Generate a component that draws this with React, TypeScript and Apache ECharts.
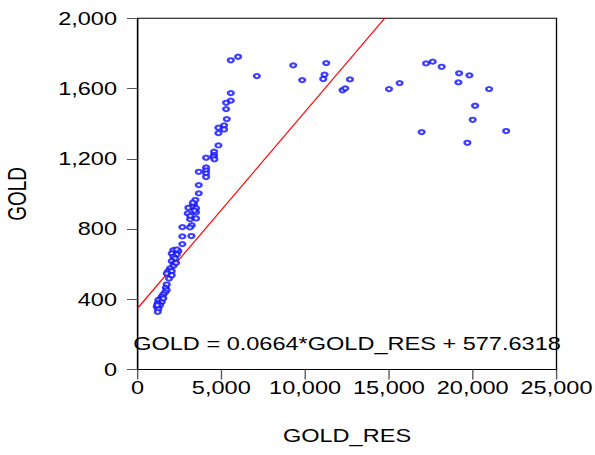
import React, { useEffect, useRef } from "react";
import * as echarts from "echarts";

// GOLD_RES (x) against GOLD (y)
const goldRes: number[] = [
  5567, 6004, 7120, 9290, 9828, 11261, 11160, 11082, 12676, 12235, 12396,
  15006, 15640, 17217, 17612, 18149, 19188, 19147, 19804, 20980, 20144,
  20001, 16955, 19684, 21996,
  5567, 5567, 5287, 5287, 5328, 5167, 5167, 4827, 4827, 4827, 4570, 4570,
  4529, 4092, 4588, 4092, 4092, 4092, 4092, 3656, 3656, 3656, 3453, 3375,
  3256, 3035, 3495, 2999, 3495, 3136, 3495, 3238, 3136, 2676, 2676, 3214,
  2676, 3300, 3400, 3150,
  2139, 2437, 2043, 2342, 2139, 2240, 2043, 2198, 2139, 1942, 1840, 2043,
  1882, 1744, 1685, 1744, 1643, 1541, 1446, 1344, 1243, 1446, 1207, 1344,
  1147, 1243, 1207, 2342, 2300, 1744, 2043, 1541, 1183,
];
const gold: number[] = [
  1761, 1781, 1671, 1732, 1648, 1745, 1679, 1654, 1652, 1590, 1601,
  1597, 1631, 1743, 1753, 1724, 1687, 1635, 1675, 1597, 1502,
  1422, 1352, 1291, 1358,
  1574, 1531, 1519, 1483, 1426, 1390, 1367, 1377, 1346, 1276, 1240, 1221,
  1211, 1206, 1197, 1151, 1134, 1117, 1096, 1126, 1050, 1003, 965, 940,
  927, 921, 918, 889, 895, 856, 860, 822, 809, 811, 758, 760,
  714, 950, 905, 875,
  680, 674, 661, 655, 642, 632, 617, 604, 590, 576, 560, 560,
  518, 484, 465, 452, 439, 427, 414, 401, 395, 385, 376, 366,
  357, 344, 328, 684, 607, 547, 537, 405, 366,
];

// fitted line as plotted
const fitIntercept = 348;
const fitSlope = 0.112;
const fitX: number[] = [0, 14750];

const xTicks = { min: 0, max: 25000, interval: 5000 };
const yTicks = { min: 0, max: 2000, interval: 400 };

const equationText = "GOLD = 0.0664*GOLD_RES + 577.6318";
const xTitle = "GOLD_RES";
const yTitle = "GOLD";

// the whole figure is drawn horizontally stretched
const SX = 1.33;
const W = 595 / SX;
const H = 455;
const FONT = "'Liberation Sans', Arial, sans-serif";
const FS = 17.7;

const fmt = (v: number) => v.toLocaleString("en-US");

export default function App() {
  const ref = useRef<HTMLDivElement>(null);

  useEffect(() => {
    if (!ref.current) return;
    const chart = echarts.init(ref.current, undefined, { renderer: "svg" });
    const points = goldRes.map((x, i) => [x, gold[i]]);
    const fitLine = fitX.map((x) => [x, fitIntercept + fitSlope * x]);
    const gridLeft = 137.5 / SX;
    const gridWidth = (556.5 - 137.5) / SX;

    chart.setOption({
      animation: false,
      backgroundColor: "#ffffff",
      grid: {
        left: gridLeft,
        top: 18.3,
        width: gridWidth,
        height: 351.2,
        containLabel: false,
        outerBoundsMode: "none",
        show: true,
        borderColor: "#000000",
        borderWidth: 1,
        backgroundColor: "transparent",
      },
      xAxis: {
        type: "value",
        min: xTicks.min,
        max: xTicks.max,
        interval: xTicks.interval,
        name: xTitle,
        nameLocation: "middle",
        nameGap: 57,
        nameTextStyle: { fontFamily: FONT, fontSize: FS, color: "#000" },
        axisLine: { show: true, lineStyle: { color: "#000", width: 1 } },
        axisTick: { show: true, inside: false, length: 10, lineStyle: { color: "#555" } },
        axisLabel: {
          margin: 9,
          fontFamily: FONT,
          fontSize: FS,
          color: "#000",
          formatter: (v: number) => fmt(v),
        },
        splitLine: { show: false },
      },
      yAxis: {
        type: "value",
        min: yTicks.min,
        max: yTicks.max,
        interval: yTicks.interval,
        name: yTitle,
        nameLocation: "middle",
        nameGap: 81,
        nameTextStyle: { fontFamily: FONT, fontSize: 19, color: "#000" },
        axisLine: { show: true, lineStyle: { color: "#000", width: 1 } },
        axisTick: { show: true, inside: false, length: 7.9, lineStyle: { color: "#555" } },
        axisLabel: {
          margin: 15.4,
          fontFamily: FONT,
          fontSize: FS,
          color: "#000",
          formatter: (v: number) => fmt(v),
        },
        splitLine: { show: false },
      },
      series: [
        {
          type: "scatter",
          data: points,
          symbol: "emptyCircle",
          symbolSize: 4.2,
          itemStyle: { color: "#1010ff", borderWidth: 1 },
          z: 3,
        },
        {
          type: "line",
          data: fitLine,
          symbol: "none",
          clip: true,
          lineStyle: { color: "#ff0000", width: 1 },
          z: 2,
        },
      ],
      graphic: [
        {
          type: "text",
          x: 347 / SX,
          y: 344,
          z: 10,
          style: {
            text: equationText,
            fontFamily: FONT,
            fontSize: FS,
            fill: "#000",
            align: "center",
            verticalAlign: "middle",
            textAlign: "center",
            textVerticalAlign: "middle",
          },
        },
      ],
    });
    return () => chart.dispose();
  }, []);

  return (
    <div
      ref={ref}
      style={{
        position: "absolute",
        left: 0,
        top: 0,
        width: W,
        height: H,
        transform: `scaleX(${SX})`,
        transformOrigin: "0 0",
        background: "#fff",
      }}
    />
  );
}
